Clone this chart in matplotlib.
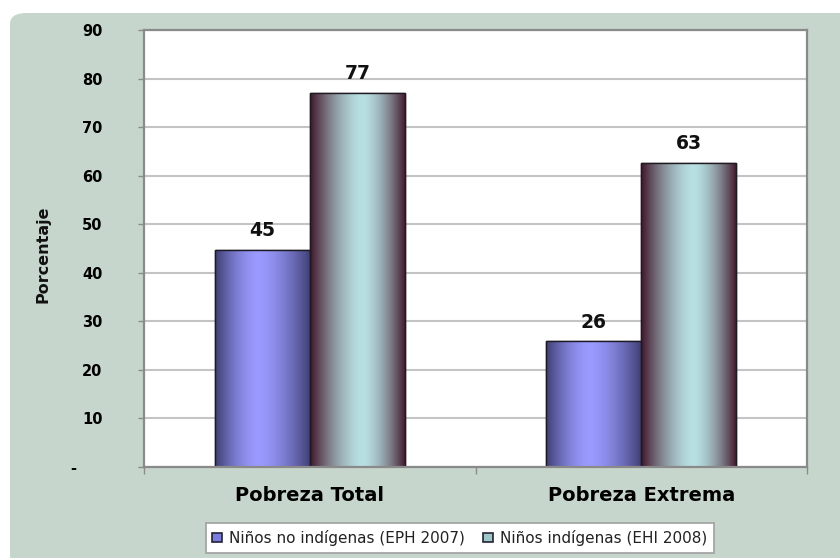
import numpy as np
import matplotlib
matplotlib.use("Agg")
import matplotlib.pyplot as plt
from matplotlib.patches import FancyBboxPatch, Patch
from matplotlib.colors import to_rgb

categories = ["Pobreza Total", "Pobreza Extrema"]
series_names = ["Niños no indígenas (EPH 2007)", "Niños indígenas (EHI 2008)"]
no_indigenas = [44.7, 25.9]
indigenas = [77.0, 62.6]
yticks = [0, 10, 20, 30, 40, 50, 60, 70, 80, 90]
ytick_labels = ["-     ", "10", "20", "30", "40", "50", "60", "70", "80", "90"]

W, H = 840, 558
fig = plt.figure(figsize=(W / 100, H / 100), dpi=100)
fig.patch.set_facecolor("white")

bg = "#c6d6cc"
frame = FancyBboxPatch((10 / W, -0.05), 1.2, 1 - 13 / H + 0.05,
                       boxstyle="round,pad=0,rounding_size=0.02",
                       transform=fig.transFigure, facecolor=bg,
                       edgecolor="none", zorder=-10)
fig.patches.append(frame)

ax = fig.add_axes([144 / W, 1 - 467 / H, (807 - 144) / W, (467 - 30) / H])
ax.set_zorder(2)
ax.set_facecolor("white")

for sp in ax.spines.values():
    sp.set_color("#8a8a8a")
    sp.set_linewidth(1.6)
    sp.set_zorder(5)

ax.set_axisbelow(True)
ax.yaxis.grid(True, color="#c4c4c4", linewidth=1.5)
ax.set_yticks(yticks)
ax.set_yticklabels(ytick_labels)
ax.tick_params(axis="y", direction="out", length=4, width=1, color="#8a8a8a",
               pad=26, labelsize=10.5)
for lab in ax.get_yticklabels():
    lab.set_fontweight("bold")
    lab.set_fontfamily("DejaVu Sans")

x = np.arange(len(categories))
ax.set_xticks(x)
ax.set_xticklabels(categories)
ax.tick_params(axis="x", which="major", length=0, pad=14, labelsize=14)
for lab in ax.get_xticklabels():
    lab.set_fontweight("bold")
    lab.set_fontfamily("DejaVu Sans")
ax.set_xticks([-0.5, 0.5, 1.5], minor=True)
ax.tick_params(axis="x", which="minor", direction="out", length=5, width=1,
               color="#8a8a8a")

width = 0.287


def gradient_fill(bar, dark, light, peak=0.5, power=1.6):
    x0, y0 = bar.get_x(), bar.get_y()
    w, h = bar.get_width(), bar.get_height()
    t = np.linspace(0, 1, 256)
    d = np.where(t < peak, (peak - t) / peak, (t - peak) / (1 - peak))
    f = 1 - d ** power
    dk = np.array(to_rgb(dark))
    lt = np.array(to_rgb(light))
    img = dk[None, :] + (lt - dk)[None, :] * f[:, None]
    img = img[None, :, :]
    im = ax.imshow(img, extent=[x0, x0 + w, y0, y0 + h], aspect="auto",
                   zorder=bar.get_zorder() + 0.1, interpolation="bilinear")
    im.set_clip_path(bar)


bars1 = ax.bar(x - width / 2, no_indigenas, width, facecolor="#8888ee",
               edgecolor="#222233", linewidth=1.0, zorder=2,
               label=series_names[0])
bars2 = ax.bar(x + width / 2, indigenas, width, facecolor="#a8d4d6",
               edgecolor="#2a1a22", linewidth=1.0, zorder=2,
               label=series_names[1])
for b in bars1:
    gradient_fill(b, "#3e3e72", "#9a9aff", peak=0.45)
for b in bars2:
    gradient_fill(b, "#40152a", "#b8e0e2", peak=0.55)
ax.set_xlim(-0.5, 1.5)
ax.set_ylim(0, 90)
for b in list(bars1) + list(bars2):
    ax.add_patch(plt.Rectangle((b.get_x(), b.get_y()), b.get_width(),
                               b.get_height(), fill=False,
                               edgecolor="#1e1a22", linewidth=1.0, zorder=3))

for bars, vals in ((bars1, no_indigenas), (bars2, indigenas)):
    for b, v in zip(bars, vals):
        ax.annotate(f"{v:.0f}", (b.get_x() + b.get_width() / 2, b.get_height()),
                    xytext=(0, 7), textcoords="offset points", ha="center",
                    va="bottom", fontsize=13.5, fontweight="bold",
                    family="DejaVu Sans", color="#111111")

fig.text(43 / W, 1 - 254 / H, "Porcentaje", rotation=90, ha="center",
         va="center", fontsize=11.5, fontweight="bold", family="DejaVu Sans",
         color="#111111")

handles = [Patch(facecolor="#7c7ce0", edgecolor="#222233", linewidth=1.2),
           Patch(facecolor="#9ec6c8", edgecolor="#222233", linewidth=1.2)]
leg = fig.legend(handles, series_names, loc="center",
                 bbox_to_anchor=(460 / W, 1 - 538 / H), ncol=2,
                 frameon=True, fancybox=False, edgecolor="#a0a0a0",
                 facecolor="white", framealpha=1, fontsize=11,
                 handlelength=0.6, handleheight=0.6, handletextpad=0.5,
                 columnspacing=1.2, borderpad=0.45, borderaxespad=0)
leg.get_frame().set_linewidth(1.2)
for t in leg.get_texts():
    t.set_color("#222222")

fig.savefig("out.png", dpi=100, facecolor=fig.get_facecolor())
